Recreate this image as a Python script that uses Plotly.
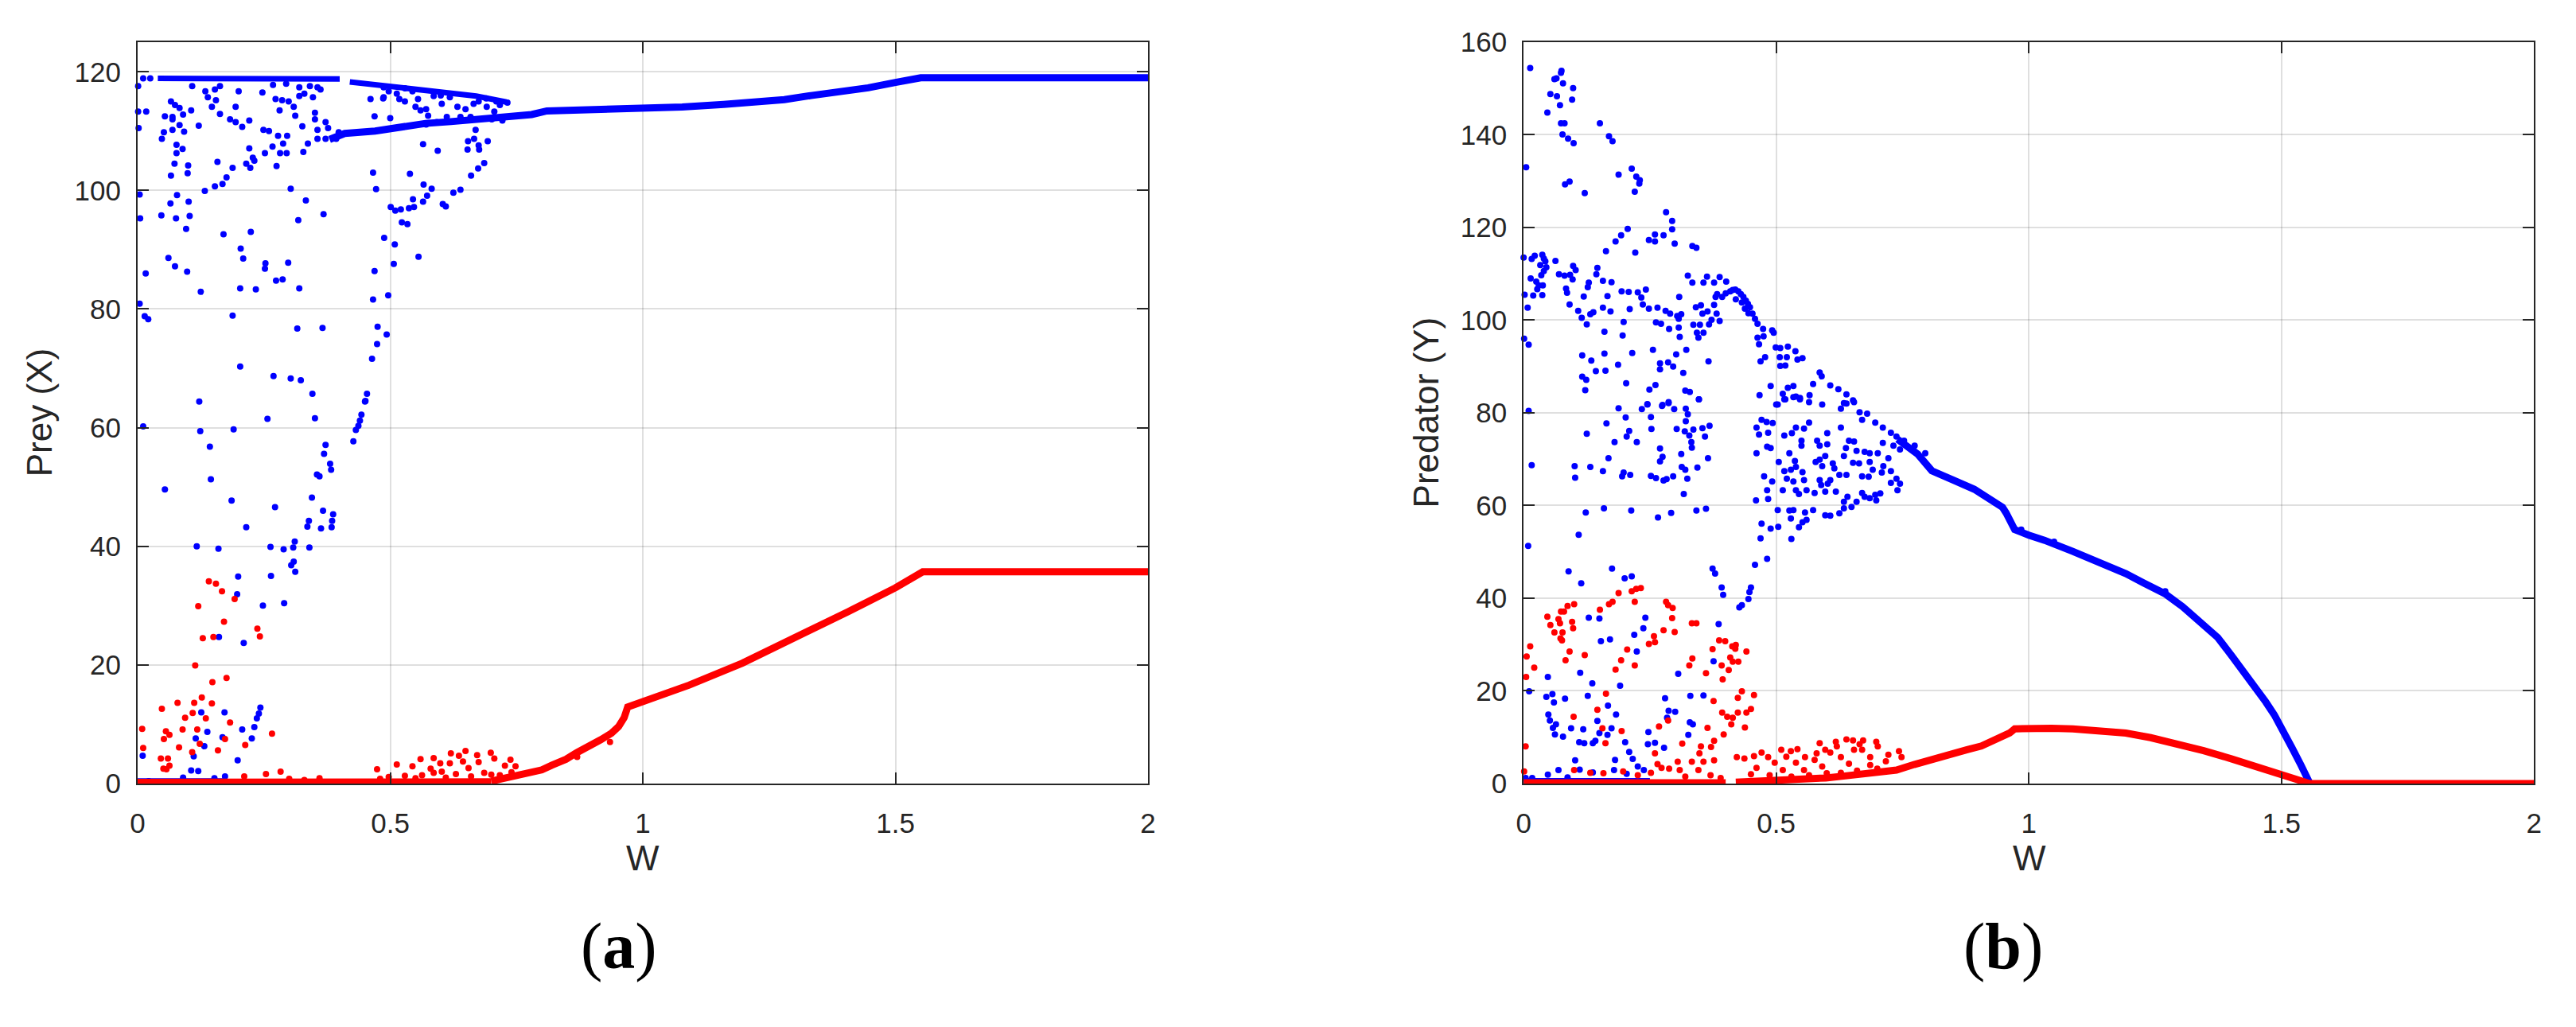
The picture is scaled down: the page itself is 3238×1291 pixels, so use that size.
import plotly.graph_objects as go

# ---------------- DATA ----------------
W_TICKS = [0, 0.5, 1, 1.5, 2]
W_TICK_LABELS = ["0", "0.5", "1", "1.5", "2"]
PREY_TICKS = [0, 20, 40, 60, 80, 100, 120]
PRED_TICKS = [0, 20, 40, 60, 80, 100, 120, 140, 160]

# ---- panel (a): Prey X ----
prey_blue_top_w = [0.04, 0.10, 0.20, 0.30, 0.40]
prey_blue_top_x = [118.9, 118.9, 118.9, 118.9, 118.8]
prey_blue_upper_w = [0.42, 0.47, 0.52, 0.57, 0.62, 0.67, 0.73]
prey_blue_upper_x = [118.3, 117.8, 117.2, 116.7, 116.3, 115.9, 114.9]
prey_blue_main_w = [0.38, 0.41, 0.47, 0.52, 0.57, 0.62, 0.68, 0.73, 0.78, 0.81, 0.90, 1.00, 1.078,
                    1.16, 1.222, 1.28, 1.333, 1.40, 1.446, 1.50, 1.55, 2.00]
prey_blue_main_x = [108.6, 109.6, 110.0, 110.7, 111.3, 111.6, 112.0, 112.4, 112.8, 113.4, 113.6, 113.8, 114.05,
                    114.5, 114.9, 115.3, 116.0, 116.7, 117.3, 118.2, 119.0, 119.0]
prey_blue_zero_w = [0.0, 0.17]
prey_blue_zero_x = [0.3, 0.3]
prey_red_zero_w = [0.0, 0.70]
prey_red_zero_x = [0.2, 0.3]
prey_red_main_w = [0.70, 0.743, 0.771, 0.80, 0.820, 0.848, 0.869, 0.897, 0.917, 0.938, 0.952, 0.963,
                   0.966, 0.970, 0.980, 1.0, 1.092, 1.197, 1.302, 1.407, 1.50, 1.554, 2.0]
prey_red_main_x = [0.4, 1.1, 1.6, 2.3, 3.1, 4.1, 5.2, 6.3, 7.4, 8.5, 9.6, 11.1,
                   12.0, 12.9, 13.2, 13.8, 16.6, 20.3, 24.5, 29.0, 33.0, 35.7, 35.7]

prey_blue_pts = [
    (0.001, 117.6), (0.001, 113.3), (0.017, 113.3), (0.002, 110.5), (0.004, 99.3), (0.005, 95.3),
    (0.016, 86.0), (0.004, 80.9), (0.014, 78.8), (0.021, 78.3), (0.011, 118.9), (0.025, 118.9),
    (0.066, 115.0), (0.074, 114.4), (0.083, 113.9), (0.106, 113.5), (0.090, 112.8), (0.054, 112.5),
    (0.069, 112.4), (0.069, 112.0), (0.083, 111.0), (0.121, 110.9), (0.069, 110.2), (0.092, 109.9),
    (0.052, 109.8), (0.048, 108.7), (0.077, 107.7), (0.089, 107.0), (0.077, 106.3), (0.073, 104.5),
    (0.100, 104.2), (0.099, 102.9), (0.066, 102.5), (0.078, 99.2), (0.065, 97.8), (0.101, 98.1),
    (0.047, 95.8), (0.076, 95.3), (0.103, 95.7), (0.096, 93.5), (0.061, 88.6), (0.074, 87.2),
    (0.098, 86.3), (0.125, 82.9),
    (0.108, 117.6), (0.134, 116.7), (0.139, 115.7), (0.153, 117.0), (0.163, 117.6), (0.155, 115.2),
    (0.147, 114.1), (0.163, 112.9), (0.194, 114.1), (0.200, 116.7), (0.183, 112.0), (0.194, 111.5),
    (0.207, 110.7), (0.221, 111.8), (0.247, 116.5), (0.273, 115.4), (0.249, 110.2), (0.260, 110.0),
    (0.278, 109.2), (0.281, 113.5), (0.286, 115.2), (0.299, 115.0), (0.309, 114.1), (0.312, 112.6),
    (0.268, 117.8), (0.294, 118.0), (0.320, 117.4), (0.330, 116.3), (0.320, 115.9), (0.341, 117.6),
    (0.356, 117.4), (0.362, 117.0), (0.347, 115.7), (0.351, 113.1), (0.351, 112.0), (0.326, 110.8),
    (0.356, 110.2), (0.372, 111.5), (0.377, 110.5), (0.356, 108.7), (0.372, 108.7), (0.393, 108.7),
    (0.398, 109.8), (0.296, 109.2), (0.288, 107.9), (0.267, 107.4), (0.252, 106.3), (0.282, 106.3),
    (0.295, 106.3), (0.221, 107.1), (0.228, 105.5), (0.215, 104.5), (0.223, 103.8), (0.231, 105.0),
    (0.188, 103.8), (0.176, 102.2), (0.168, 101.1), (0.153, 100.7), (0.133, 99.9), (0.158, 104.8),
    (0.275, 104.1), (0.303, 100.3), (0.333, 98.3), (0.318, 95.0), (0.368, 96.0), (0.328, 106.5),
    (0.337, 107.9), (0.224, 93.0), (0.170, 92.6), (0.204, 90.2), (0.209, 88.5), (0.253, 87.7),
    (0.252, 86.8), (0.298, 87.8), (0.274, 84.8), (0.287, 85.0), (0.203, 83.5), (0.234, 83.3),
    (0.320, 83.5),
    (0.461, 115.4), (0.486, 115.5), (0.469, 112.5), (0.500, 112.2), (0.466, 103.0), (0.472, 100.2),
    (0.488, 92.0), (0.509, 90.9), (0.507, 87.6), (0.469, 86.4), (0.496, 82.3), (0.466, 81.6),
    (0.501, 97.2), (0.510, 96.6), (0.521, 96.8), (0.523, 94.6), (0.534, 94.3), (0.537, 97.0),
    (0.547, 97.2), (0.545, 98.5), (0.565, 98.1), (0.573, 99.1), (0.582, 100.3), (0.566, 101.0),
    (0.539, 102.8), (0.556, 88.8), (0.565, 107.8), (0.594, 106.7), (0.604, 97.7), (0.610, 97.3),
    (0.625, 99.6), (0.639, 100.1), (0.660, 102.5), (0.674, 103.7), (0.686, 104.6), (0.653, 106.9),
    (0.676, 106.9), (0.675, 107.6), (0.654, 108.3), (0.666, 108.7), (0.669, 110.2), (0.693, 108.3),
    (0.529, 117.2), (0.544, 116.7), (0.555, 115.4), (0.529, 115.0), (0.550, 114.1), (0.571, 113.7),
    (0.575, 112.6), (0.560, 113.5), (0.586, 115.9), (0.602, 114.6), (0.618, 115.7), (0.633, 114.1),
    (0.649, 113.7), (0.665, 114.6), (0.675, 115.0), (0.639, 112.4), (0.659, 112.4), (0.691, 114.1),
    (0.706, 113.3), (0.717, 114.4), (0.732, 114.8), (0.701, 112.0), (0.722, 111.8), (0.612, 112.4),
    (0.592, 111.5), (0.571, 111.1), (0.487, 117.4), (0.497, 116.7), (0.487, 115.7), (0.513, 116.3),
    (0.518, 115.4), (0.600, 116.0), (0.690, 115.5), (0.710, 115.0),
    (0.188, 78.9), (0.316, 76.7), (0.366, 76.8), (0.475, 77.0), (0.493, 75.7), (0.474, 74.1),
    (0.464, 71.6), (0.203, 70.3), (0.269, 68.7), (0.303, 68.3), (0.323, 68.0), (0.346, 65.7),
    (0.454, 65.7), (0.450, 64.4), (0.122, 64.4),
    (0.011, 60.2), (0.124, 59.4), (0.190, 59.7), (0.257, 61.5), (0.351, 61.6), (0.143, 56.8),
    (0.145, 51.3), (0.054, 49.6), (0.186, 47.7), (0.215, 43.2), (0.272, 46.6), (0.345, 48.2),
    (0.367, 46.0), (0.387, 45.4), (0.385, 44.3), (0.384, 43.2), (0.363, 43.0), (0.339, 44.3),
    (0.336, 43.3), (0.372, 57.1), (0.369, 55.6), (0.381, 53.9), (0.383, 52.9), (0.355, 52.1),
    (0.360, 51.8), (0.427, 57.7), (0.432, 59.6), (0.437, 60.3), (0.440, 61.2), (0.443, 62.2),
    (0.451, 64.5), (0.117, 40.0), (0.160, 39.6), (0.263, 39.9), (0.289, 39.5), (0.308, 39.8),
    (0.311, 40.8), (0.340, 39.8), (0.304, 36.8), (0.309, 37.4), (0.312, 35.7), (0.199, 34.9),
    (0.264, 35.0), (0.197, 31.9), (0.248, 30.0), (0.290, 30.4), (0.161, 24.7), (0.210, 23.7),
    (0.126, 12.0), (0.172, 12.0), (0.243, 12.8), (0.240, 11.8), (0.236, 11.0), (0.231, 9.5),
    (0.207, 9.1), (0.138, 8.7), (0.115, 7.6), (0.168, 7.8), (0.226, 7.6), (0.132, 6.3),
    (0.111, 4.6), (0.198, 3.9), (0.010, 4.7), (0.106, 2.2), (0.120, 2.1), (0.173, 1.2),
    (0.090, 1.0), (0.152, 0.9), (0.022, 0.4),
]
prey_red_pts = [
    (0.141, 34.1), (0.155, 33.7), (0.167, 32.4), (0.192, 31.1), (0.120, 29.9), (0.171, 27.3),
    (0.237, 26.1), (0.242, 24.8), (0.129, 24.5), (0.150, 24.7), (0.114, 19.9), (0.176, 17.8),
    (0.148, 17.1), (0.127, 14.5), (0.079, 13.6), (0.112, 13.6), (0.147, 13.5), (0.048, 12.6),
    (0.109, 11.9), (0.094, 11.1), (0.135, 11.0), (0.183, 10.3), (0.009, 9.2), (0.089, 9.1),
    (0.118, 9.1), (0.056, 8.8), (0.063, 8.2), (0.266, 8.4), (0.052, 7.5), (0.173, 7.5),
    (0.123, 6.7), (0.082, 6.1), (0.011, 6.0), (0.213, 6.5), (0.159, 5.6), (0.108, 5.3),
    (0.046, 4.2), (0.060, 4.2), (0.063, 3.0), (0.051, 2.5), (0.057, 2.4), (0.211, 1.2),
    (0.254, 1.6), (0.283, 2.0), (0.300, 0.8), (0.330, 0.6), (0.360, 0.9),
    (0.474, 2.4), (0.513, 3.2), (0.544, 2.9), (0.560, 4.1), (0.586, 4.3), (0.599, 3.4),
    (0.620, 5.1), (0.618, 3.4), (0.636, 4.7), (0.649, 5.5), (0.644, 3.7), (0.672, 4.8),
    (0.675, 3.6), (0.699, 5.2), (0.706, 4.2), (0.738, 4.0), (0.748, 2.9), (0.563, 1.4),
    (0.586, 1.8), (0.630, 1.6), (0.686, 1.8), (0.717, 1.4), (0.497, 1.1), (0.529, 1.3),
    (0.602, 2.0), (0.727, 3.0), (0.480, 0.8), (0.550, 0.9), (0.610, 1.0), (0.660, 1.2),
    (0.700, 1.5), (0.740, 1.9), (0.655, 2.6), (0.580, 2.5), (0.935, 7.0), (0.870, 4.5),
]

# ---- panel (b): Predator Y ----
pred_blue_main_w = [0.74, 0.759, 0.780, 0.808, 0.829, 0.850, 0.892, 0.920, 0.948, 0.955, 0.962, 0.972,
                    1.0, 1.031, 1.087, 1.143, 1.192, 1.227, 1.269, 1.304, 1.339, 1.374, 1.402, 1.430,
                    1.451, 1.469, 1.486, 1.507, 1.521, 1.538, 1.556]
pred_blue_main_y = [74.3, 72.7, 71.1, 67.5, 66.7, 65.5, 63.5, 61.6, 59.6, 58.4, 56.8, 54.8,
                    53.6, 52.5, 50.1, 47.7, 45.3, 43.3, 41.0, 38.2, 35.0, 31.5, 27.5, 23.5,
                    20.4, 17.6, 14.8, 10.9, 7.7, 4.1, 0.1]
pred_blue_zero_w = [0.0, 0.25]
pred_blue_zero_y = [0.4, 0.4]
pred_red_zero_w = [0.0, 0.40]
pred_red_zero_y = [0.15, 0.15]
pred_red_main_w = [0.42, 0.513, 0.598, 0.633, 0.668, 0.703, 0.738, 0.773, 0.808, 0.843, 0.878, 0.906,
                   0.934, 0.948, 0.962, 0.972, 1.0, 1.045, 1.087, 1.143, 1.192, 1.241, 1.297, 1.346,
                   1.402, 1.451, 1.493, 1.528, 1.556, 2.0]
pred_red_main_y = [0.3, 0.6, 1.2, 1.6, 2.1, 2.5, 2.9, 4.1, 5.3, 6.3, 7.3, 8.1,
                   9.3, 9.9, 10.9, 11.8, 11.9, 11.9, 11.8, 11.5, 10.9, 9.9, 8.6, 7.1,
                   5.3, 3.7, 2.1, 1.0, 0.0, 0.0]

pred_blue_pts = [
    (0.013, 154.4), (0.075, 153.8), (0.074, 153.4), (0.061, 152.0), (0.065, 152.2), (0.078, 151.1),
    (0.098, 150.1), (0.053, 148.8), (0.066, 148.3), (0.096, 147.6), (0.072, 146.4), (0.047, 144.8),
    (0.074, 142.5), (0.081, 142.5), (0.151, 142.5), (0.077, 140.1), (0.088, 139.2), (0.099, 138.2),
    (0.169, 139.7), (0.176, 138.6), (0.005, 133.0), (0.188, 131.4), (0.214, 132.7), (0.223, 131.0),
    (0.230, 130.2), (0.229, 129.5), (0.220, 127.7), (0.082, 129.3), (0.091, 129.9), (0.121, 127.4),
    (0.282, 123.3), (0.294, 121.4), (0.294, 119.6), (0.299, 116.5), (0.277, 118.3), (0.260, 118.5),
    (0.260, 117.0), (0.248, 117.3), (0.206, 119.7), (0.193, 118.3), (0.182, 117.0), (0.163, 114.9),
    (0.221, 114.6), (0.334, 116.0), (0.342, 115.6),
    (0.000, 113.5), (0.016, 113.2), (0.022, 113.9), (0.037, 114.1), (0.040, 113.3), (0.043, 112.7),
    (0.033, 111.9), (0.045, 111.4), (0.040, 110.6), (0.035, 109.7), (0.014, 109.0), (0.025, 108.3),
    (0.030, 107.5), (0.038, 107.5), (0.027, 106.7), (0.002, 105.5), (0.019, 105.3), (0.037, 105.4),
    (0.008, 102.7), (0.001, 96.0), (0.010, 94.7), (0.063, 112.8), (0.070, 109.9), (0.081, 109.6),
    (0.098, 111.7), (0.103, 110.8), (0.092, 109.8), (0.097, 108.8), (0.146, 111.3), (0.144, 109.9),
    (0.157, 108.5), (0.174, 108.2), (0.129, 108.1), (0.127, 107.1), (0.084, 106.8), (0.086, 105.9),
    (0.119, 105.1), (0.166, 105.2), (0.194, 106.2), (0.208, 106.1), (0.226, 106.0), (0.242, 106.6),
    (0.233, 104.9), (0.236, 103.4), (0.248, 102.5), (0.265, 102.7), (0.281, 102.0), (0.290, 101.4),
    (0.308, 105.0), (0.304, 100.9), (0.312, 101.3), (0.307, 100.3), (0.091, 103.4), (0.108, 102.0),
    (0.115, 100.5), (0.132, 101.3), (0.138, 101.7), (0.157, 102.7), (0.172, 101.9), (0.210, 102.4),
    (0.125, 99.1), (0.198, 99.6), (0.160, 97.5), (0.196, 96.7), (0.262, 99.5), (0.272, 99.2),
    (0.288, 98.1), (0.307, 98.4), (0.309, 96.4), (0.336, 99.0), (0.349, 99.0), (0.343, 97.3),
    (0.356, 97.3), (0.346, 96.2), (0.367, 99.1), (0.372, 100.1), (0.388, 99.8), (0.325, 109.6),
    (0.334, 108.1), (0.356, 108.1), (0.363, 109.4), (0.377, 108.1), (0.388, 109.3), (0.401, 108.3),
    (0.341, 102.8), (0.351, 103.2), (0.354, 101.4), (0.364, 101.9), (0.377, 103.3), (0.380, 105.0),
    (0.383, 105.6), (0.382, 101.4),
    (0.393, 105.0), (0.400, 105.8), (0.409, 106.2), (0.414, 106.5), (0.419, 106.6), (0.425, 106.2),
    (0.430, 105.6), (0.435, 105.0), (0.440, 104.2), (0.444, 103.5), (0.448, 102.8), (0.453, 101.4),
    (0.458, 100.3), (0.463, 99.2), (0.474, 98.1), (0.492, 97.8), (0.420, 104.5), (0.432, 103.8),
    (0.445, 101.5), (0.438, 102.5),
    (0.463, 96.2), (0.475, 96.5), (0.495, 97.3), (0.499, 94.1), (0.508, 94.0), (0.523, 94.3),
    (0.538, 93.3), (0.552, 91.8), (0.542, 91.5), (0.466, 94.8), (0.469, 91.1), (0.478, 92.0),
    (0.507, 92.0), (0.508, 90.1), (0.518, 90.2), (0.521, 92.0), (0.489, 85.8), (0.467, 83.8),
    (0.523, 85.4), (0.534, 85.8), (0.513, 84.1), (0.539, 83.5), (0.547, 83.2), (0.566, 83.8),
    (0.573, 86.2), (0.586, 88.7), (0.590, 87.9), (0.607, 85.9), (0.623, 85.1), (0.639, 84.0),
    (0.652, 82.7), (0.634, 82.1), (0.503, 81.8), (0.518, 82.9),
    (0.116, 92.4), (0.134, 91.3), (0.160, 92.8), (0.143, 89.0), (0.162, 89.1), (0.187, 90.4),
    (0.215, 92.9), (0.256, 93.6), (0.116, 87.8), (0.124, 87.1), (0.122, 84.9), (0.203, 86.4),
    (0.249, 85.0), (0.261, 86.0), (0.270, 90.7), (0.270, 89.4), (0.286, 90.9), (0.296, 90.0),
    (0.302, 92.6), (0.316, 88.6), (0.322, 93.6), (0.366, 91.1), (0.320, 84.8), (0.329, 84.5),
    (0.347, 82.9), (0.287, 82.3), (0.275, 81.7), (0.245, 81.9),
    (0.010, 80.4), (0.016, 68.7), (0.009, 51.3), (0.188, 81.0), (0.234, 80.8), (0.245, 81.8),
    (0.274, 81.5), (0.287, 82.1), (0.298, 80.8), (0.321, 80.9), (0.325, 79.7), (0.347, 82.9),
    (0.202, 79.0), (0.252, 79.1), (0.164, 77.7), (0.125, 75.5), (0.209, 76.1), (0.204, 74.9),
    (0.180, 73.7), (0.224, 73.7), (0.253, 76.5), (0.303, 76.5), (0.319, 76.0), (0.336, 76.4),
    (0.321, 78.2), (0.354, 76.7), (0.368, 77.2), (0.328, 75.1), (0.359, 74.9), (0.332, 73.7),
    (0.333, 72.5), (0.270, 72.3), (0.312, 71.1), (0.275, 70.5), (0.270, 69.5), (0.168, 70.2),
    (0.365, 70.2), (0.101, 68.5), (0.132, 68.3), (0.157, 67.4), (0.102, 66.0), (0.198, 67.1),
    (0.195, 66.3), (0.211, 66.6), (0.252, 66.4), (0.262, 65.9), (0.277, 65.4), (0.283, 65.7),
    (0.296, 66.3), (0.313, 68.3), (0.320, 67.7), (0.344, 68.2), (0.324, 65.8), (0.317, 62.5),
    (0.123, 58.5), (0.159, 59.4), (0.213, 58.9), (0.266, 57.4), (0.292, 58.4), (0.342, 58.9),
    (0.361, 59.3), (0.109, 53.7), (0.089, 45.8), (0.175, 46.4), (0.200, 44.3), (0.214, 44.7),
    (0.114, 43.2), (0.374, 46.4), (0.379, 45.3), (0.392, 42.3), (0.395, 40.7), (0.450, 42.3),
    (0.447, 41.3), (0.445, 39.8), (0.432, 38.5), (0.427, 38.0), (0.458, 47.2), (0.482, 48.5),
    (0.469, 52.9), (0.386, 34.4),
    (0.461, 76.8), (0.466, 75.3), (0.471, 78.5), (0.481, 78.0), (0.493, 77.8), (0.484, 75.7),
    (0.461, 71.3), (0.482, 72.7), (0.489, 72.4), (0.500, 81.8), (0.516, 82.9), (0.534, 83.4),
    (0.547, 82.9), (0.565, 82.3), (0.591, 81.8), (0.628, 80.9), (0.639, 82.0), (0.654, 82.3),
    (0.665, 80.1), (0.670, 78.5), (0.680, 79.8), (0.696, 77.9), (0.711, 76.8), (0.727, 75.7),
    (0.738, 74.9), (0.753, 74.0), (0.774, 72.9), (0.795, 71.3), (0.516, 75.1), (0.531, 75.6),
    (0.539, 76.8), (0.555, 76.6), (0.565, 77.9), (0.550, 74.0), (0.550, 72.9), (0.581, 74.0),
    (0.586, 72.9), (0.601, 73.2), (0.601, 75.6), (0.628, 76.8), (0.644, 74.0), (0.654, 73.8),
    (0.638, 72.4), (0.659, 71.8), (0.675, 71.6), (0.685, 71.3), (0.701, 71.3), (0.711, 73.5),
    (0.732, 72.9), (0.745, 72.1), (0.722, 70.2), (0.712, 68.5), (0.685, 69.4), (0.664, 69.1),
    (0.652, 69.2), (0.634, 70.7), (0.612, 69.1), (0.597, 70.7), (0.591, 68.5), (0.578, 69.4),
    (0.615, 68.0), (0.625, 66.6), (0.639, 66.6), (0.670, 66.3), (0.691, 67.7), (0.709, 67.1),
    (0.727, 67.4), (0.738, 65.8), (0.745, 64.7), (0.740, 63.3), (0.727, 64.9), (0.683, 66.2),
    (0.670, 62.7), (0.675, 61.9), (0.696, 62.3), (0.706, 62.6), (0.698, 61.1), (0.685, 61.6),
    (0.659, 60.8), (0.649, 59.7), (0.634, 60.8), (0.641, 61.9), (0.634, 59.4), (0.625, 58.3),
    (0.607, 57.8), (0.597, 57.9), (0.576, 62.7), (0.589, 64.4), (0.597, 63.0), (0.602, 64.7),
    (0.618, 63.0), (0.607, 65.5), (0.586, 65.5), (0.560, 63.3), (0.545, 62.5), (0.539, 63.3),
    (0.534, 65.2), (0.521, 65.8), (0.516, 67.4), (0.513, 63.3), (0.555, 65.5), (0.552, 67.2),
    (0.539, 68.3), (0.529, 67.7), (0.526, 71.3), (0.505, 69.4), (0.537, 69.6), (0.586, 69.9),
    (0.492, 65.2), (0.476, 66.3), (0.482, 63.3), (0.484, 61.4), (0.460, 61.1), (0.503, 59.0),
    (0.526, 58.9), (0.534, 59.0), (0.529, 57.2), (0.545, 55.3), (0.552, 56.4), (0.560, 56.9),
    (0.573, 59.0), (0.557, 58.5), (0.471, 56.1), (0.489, 55.0), (0.504, 55.4), (0.530, 52.8),
    (0.011, 19.9), (0.048, 23.0), (0.045, 18.7), (0.057, 19.3), (0.060, 17.5), (0.082, 18.3),
    (0.112, 23.9), (0.136, 21.6), (0.127, 18.9), (0.191, 21.1), (0.224, 28.5), (0.219, 32.1),
    (0.237, 33.5), (0.241, 35.8), (0.153, 30.7), (0.171, 31.1), (0.129, 35.8), (0.150, 35.6),
    (0.306, 23.7), (0.280, 18.4), (0.287, 15.7), (0.300, 15.5), (0.330, 18.9), (0.356, 19.0),
    (0.284, 14.2), (0.329, 13.2), (0.335, 12.8), (0.326, 10.5), (0.376, 26.4), (0.049, 14.9),
    (0.052, 13.6), (0.064, 12.8), (0.058, 12.0), (0.062, 10.6), (0.078, 10.1), (0.094, 11.9),
    (0.118, 11.7), (0.146, 13.5), (0.167, 16.8), (0.183, 14.9), (0.174, 11.9), (0.150, 10.9),
    (0.166, 10.5), (0.110, 8.9), (0.120, 8.7), (0.137, 8.7), (0.142, 9.2), (0.201, 8.9),
    (0.247, 11.1), (0.246, 8.5), (0.260, 8.8), (0.278, 7.7), (0.209, 6.8), (0.216, 5.3),
    (0.181, 5.1), (0.102, 5.0), (0.111, 3.0), (0.069, 2.9), (0.048, 1.9), (0.087, 1.3),
    (0.137, 2.4), (0.179, 2.9), (0.204, 2.1), (0.226, 3.7), (0.238, 2.9), (0.004, 1.2),
    (0.017, 1.2), (1.27, 41.5), (0.985, 54.8), (1.05, 52.2),
]

pred_red_pts = [
    (0.047, 36.0), (0.053, 34.2), (0.069, 35.5), (0.072, 34.6), (0.074, 37.1), (0.080, 37.1),
    (0.087, 38.3), (0.100, 38.7), (0.096, 34.9), (0.098, 33.5), (0.061, 32.6), (0.077, 32.6),
    (0.073, 31.3), (0.076, 30.9), (0.013, 29.6), (0.006, 27.4), (0.005, 23.0), (0.021, 25.0),
    (0.091, 28.5), (0.083, 26.6), (0.121, 27.7), (0.151, 37.5), (0.169, 38.7), (0.176, 39.2),
    (0.188, 41.1), (0.214, 41.5), (0.223, 42.0), (0.232, 42.2), (0.220, 39.2), (0.282, 39.2),
    (0.286, 38.5), (0.295, 37.9), (0.294, 35.7), (0.299, 32.7), (0.277, 33.1), (0.258, 31.8),
    (0.260, 30.5), (0.248, 30.1), (0.205, 28.9), (0.193, 26.6), (0.182, 24.6), (0.220, 25.5),
    (0.333, 34.6), (0.342, 34.6), (0.334, 27.0), (0.328, 25.5), (0.361, 23.8), (0.374, 29.0),
    (0.387, 30.9), (0.399, 30.7), (0.413, 29.6), (0.419, 29.1), (0.420, 29.9), (0.441, 28.5),
    (0.409, 27.2), (0.414, 26.3), (0.425, 26.3), (0.392, 25.5), (0.406, 24.5), (0.394, 22.5),
    (0.432, 19.9), (0.424, 18.5), (0.456, 19.1), (0.376, 17.8), (0.450, 16.1), (0.441, 15.3),
    (0.424, 15.3), (0.393, 15.3), (0.403, 14.4), (0.414, 14.2), (0.411, 12.8), (0.396, 10.6),
    (0.438, 12.1), (0.377, 9.2), (0.371, 7.9), (0.351, 8.0), (0.348, 6.5), (0.356, 4.7),
    (0.377, 5.0), (0.333, 4.7), (0.364, 12.0), (0.314, 8.6), (0.305, 4.7), (0.286, 13.6),
    (0.268, 12.3), (0.194, 11.3), (0.156, 11.9), (0.163, 19.4), (0.146, 15.9), (0.099, 14.4),
    (0.162, 8.7), (0.260, 6.5), (0.265, 4.2), (0.004, 8.0), (0.001, 2.6), (0.100, 2.9),
    (0.132, 2.3), (0.158, 2.2), (0.197, 2.6), (0.226, 1.8), (0.252, 2.3), (0.273, 3.4),
    (0.288, 3.2), (0.309, 2.9), (0.346, 2.9), (0.320, 1.5), (0.370, 1.8), (0.390, 1.2),
    (0.422, 5.7), (0.437, 5.4), (0.456, 5.9), (0.471, 6.7), (0.484, 5.7), (0.510, 7.3),
    (0.529, 7.0), (0.542, 7.4), (0.557, 5.7), (0.586, 8.7), (0.597, 7.3), (0.618, 9.0),
    (0.639, 9.5), (0.652, 9.3), (0.672, 9.3), (0.698, 9.0), (0.654, 7.3), (0.670, 7.3),
    (0.686, 5.7), (0.701, 8.0), (0.722, 6.2), (0.743, 7.0), (0.748, 5.7), (0.607, 6.7),
    (0.628, 5.7), (0.576, 5.1), (0.539, 4.5), (0.497, 4.5), (0.461, 3.4), (0.513, 2.9),
    (0.555, 2.9), (0.591, 3.7), (0.644, 4.3), (0.686, 4.0), (0.717, 4.8), (0.487, 1.8),
    (0.565, 1.8), (0.628, 2.3), (0.450, 2.0), (0.530, 1.5), (0.600, 2.2), (0.660, 2.8),
    (0.700, 3.2), (0.620, 8.0), (0.665, 8.5), (0.580, 6.5), (0.520, 5.8),
]

# ---------------- FIGURE ----------------
BLUE = "rgb(0,0,255)"
RED = "rgb(255,0,0)"
AX = "#262626"
GRID = "rgba(38,38,38,0.15)"
MS = 8
LW = 9

fig = go.Figure()


def add_line(wx, vy, color, xa, ya, width=LW):
    fig.add_trace(go.Scatter(x=wx, y=vy, mode="lines", line=dict(color=color, width=width),
                             xaxis=xa, yaxis=ya, showlegend=False, hoverinfo="skip",
                             cliponaxis=False))


def add_pts(pts, color, xa, ya):
    fig.add_trace(go.Scatter(x=[p[0] for p in pts], y=[p[1] for p in pts], mode="markers",
                             marker=dict(color=color, size=MS, line=dict(width=0)),
                             xaxis=xa, yaxis=ya, showlegend=False, cliponaxis=False))


# panel (a)
add_pts(prey_blue_pts, BLUE, "x", "y")
add_line(prey_blue_top_w, prey_blue_top_x, BLUE, "x", "y", 7)
add_line(prey_blue_upper_w, prey_blue_upper_x, BLUE, "x", "y", 7)
add_line(prey_blue_main_w, prey_blue_main_x, BLUE, "x", "y")
add_line(prey_blue_zero_w, prey_blue_zero_x, BLUE, "x", "y")
add_pts(prey_red_pts, RED, "x", "y")
add_line(prey_red_zero_w, prey_red_zero_x, RED, "x", "y")
add_line(prey_red_main_w, prey_red_main_x, RED, "x", "y")

# panel (b)
add_pts(pred_blue_pts, BLUE, "x2", "y2")
add_line(pred_blue_main_w, pred_blue_main_y, BLUE, "x2", "y2")
add_line(pred_blue_zero_w, pred_blue_zero_y, BLUE, "x2", "y2")
add_pts(pred_red_pts, RED, "x2", "y2")
add_line(pred_red_zero_w, pred_red_zero_y, RED, "x2", "y2")
add_line(pred_red_main_w, pred_red_main_y, RED, "x2", "y2")

W, H = 3238, 1291
TICKFONT = dict(family="Liberation Sans, Arial, sans-serif", size=35, color=AX)


def xaxis_cfg(domain, anchor):
    return dict(domain=domain, anchor=anchor, range=[0, 2], tickvals=W_TICKS, ticktext=W_TICK_LABELS,
                ticks="inside", ticklen=14, tickwidth=2, tickcolor=AX, showline=True, linecolor=AX,
                linewidth=2, mirror="ticks", showgrid=True, gridcolor=GRID, gridwidth=2,
                zeroline=False, tickfont=TICKFONT, ticklabelstandoff=18)


def yaxis_cfg(domain, anchor, rng, tv):
    return dict(domain=domain, anchor=anchor, range=rng, tickvals=tv,
                ticks="inside", ticklen=14, tickwidth=2, tickcolor=AX, showline=True, linecolor=AX,
                linewidth=2, mirror="ticks", showgrid=True, gridcolor=GRID, gridwidth=2,
                zeroline=False, tickfont=TICKFONT, ticklabelstandoff=12)


ydom = [1 - 995 / H, 1 - 34 / H]
fig.update_layout(
    width=W, height=H, margin=dict(l=0, r=0, t=0, b=0),
    paper_bgcolor="white", plot_bgcolor="white",
    xaxis=xaxis_cfg([164 / W, 1442 / W], "y"),
    yaxis=yaxis_cfg(ydom, "x", [0, 125], PREY_TICKS),
    xaxis2=xaxis_cfg([1917 / W, 3195 / W], "y2"),
    yaxis2=yaxis_cfg(ydom, "x2", [0, 160], PRED_TICKS),
)

LABELFONT = dict(family="Liberation Sans, Arial, sans-serif", size=44, color=AX)
CAPFONT = dict(family="Liberation Serif, Times New Roman, serif", size=82, color="black")
ann = [
    dict(text="Prey (X)", x=40 / W, y=1 - 514 / H, textangle=-90, font=LABELFONT),
    dict(text="Predator (Y)", x=1794 / W, y=1 - 514 / H, textangle=-90, font=LABELFONT),
    dict(text="W", x=803 / W, y=1 - 1091 / H, font=LABELFONT),
    dict(text="W", x=2557 / W, y=1 - 1091 / H, font=LABELFONT),
    dict(text="(<b>a</b>)", x=773 / W, y=1 - 1206 / H, font=CAPFONT),
    dict(text="(<b>b</b>)", x=2524 / W, y=1 - 1206 / H, font=CAPFONT),
]
for a in ann:
    a.update(xref="paper", yref="paper", showarrow=False, xanchor="center", yanchor="middle")
fig.update_layout(annotations=ann)

fig.write_html("out.html")
